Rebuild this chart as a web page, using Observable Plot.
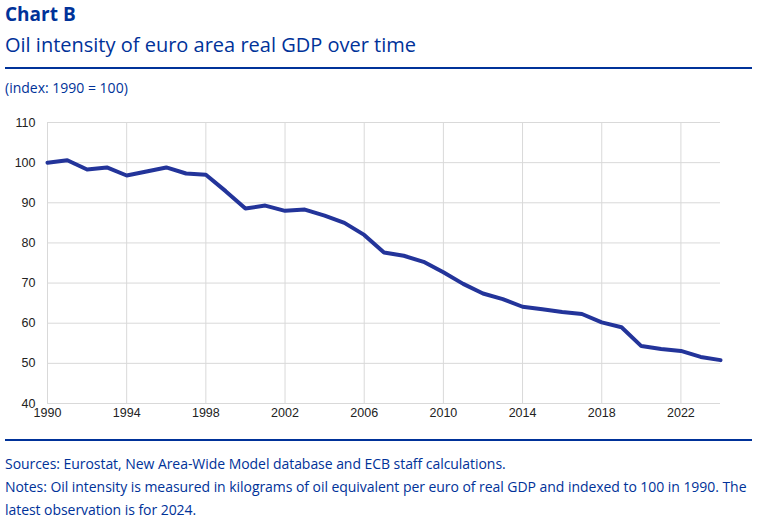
<!DOCTYPE html>
<html>
<head>
<meta charset="utf-8">
<script src="https://cdn.jsdelivr.net/npm/d3@7"></script>
<script src="https://cdn.jsdelivr.net/npm/@observablehq/plot@0.6"></script>
<style>
  html, body { margin: 0; padding: 0; background: #fff; }
  body { width: 757px; height: 519px; position: relative; overflow: hidden; font-family: "Open Sans", sans-serif; color: #003299; }
  .title { position: absolute; left: 5px; top: 1px; font-size: 19px; font-weight: 700; }
  .subtitle { position: absolute; left: 5px; top: 31px; font-size: 20px; }
  .rule { position: absolute; left: 5px; width: 747px; height: 2px; background: #003299; }
  .unit { position: absolute; left: 5px; top: 78px; font-size: 14px; }
  .note { position: absolute; left: 5px; font-size: 14px; line-height: 23px; white-space: nowrap; letter-spacing: -0.05px; }
  #chart { position: absolute; left: 0; top: 105px; }
</style>
</head>
<body>
<div class="title">Chart B</div>
<div class="subtitle">Oil intensity of euro area real GDP over time</div>
<div class="rule" style="top:67px"></div>
<div class="unit">(index: 1990 = 100)</div>
<div id="chart"></div>
<div class="rule" style="top:439px"></div>
<div class="note" style="top:452px">Sources: Eurostat, New Area-Wide Model database and ECB staff calculations.<br>Notes: Oil intensity is measured in kilograms of oil equivalent per euro of real GDP and indexed to 100 in 1990. The<br>latest observation is for 2024.</div>
<script>
const years = d3.range(1990, 2025);
const oilIntensity = [100, 100.6, 98.3, 98.8, 96.8, 97.8, 98.8, 97.3, 97.0, 92.9,
  88.6, 89.3, 88.0, 88.3, 86.8, 85.0, 82.0, 77.6, 76.8, 75.3,
  72.7, 69.8, 67.4, 66.0, 64.1, 63.5, 62.8, 62.3, 60.2, 59.0,
  54.3, 53.6, 53.1, 51.6, 50.8];
const xTicks = [1990, 1994, 1998, 2002, 2006, 2010, 2014, 2018, 2022];
const yTicks = [40, 50, 60, 70, 80, 90, 100, 110];

const data = years.map((y, i) => ({year: y, value: oilIntensity[i]}));

const chart = Plot.plot({
  width: 757,
  height: 325,
  marginLeft: 47,
  marginRight: 37,
  marginTop: 17,
  marginBottom: 27,
  style: { fontFamily: "Liberation Sans, Arial, sans-serif", fontSize: "12.5px", color: "#222" },
  x: { domain: [1990, 2024], label: null },
  y: { domain: [40, 110], label: null },
  marks: [
    Plot.gridY({ ticks: yTicks, stroke: "#d9d9d9", strokeOpacity: 1, strokeWidth: 1 }),
    Plot.gridX({ ticks: xTicks, stroke: "#d9d9d9", strokeOpacity: 1, strokeWidth: 1 }),
    Plot.axisY({ ticks: yTicks, tickSize: 0, tickPadding: 12, fill: "#222" }),
    Plot.axisX({ ticks: xTicks, tickSize: 0, tickPadding: 5, tickFormat: d => String(d), fill: "#222" }),
    Plot.line(data, { x: "year", y: "value", stroke: "#23349a", strokeWidth: 4, strokeLinejoin: "round" })
  ]
});
document.getElementById("chart").appendChild(chart);
</script>
</body>
</html>
